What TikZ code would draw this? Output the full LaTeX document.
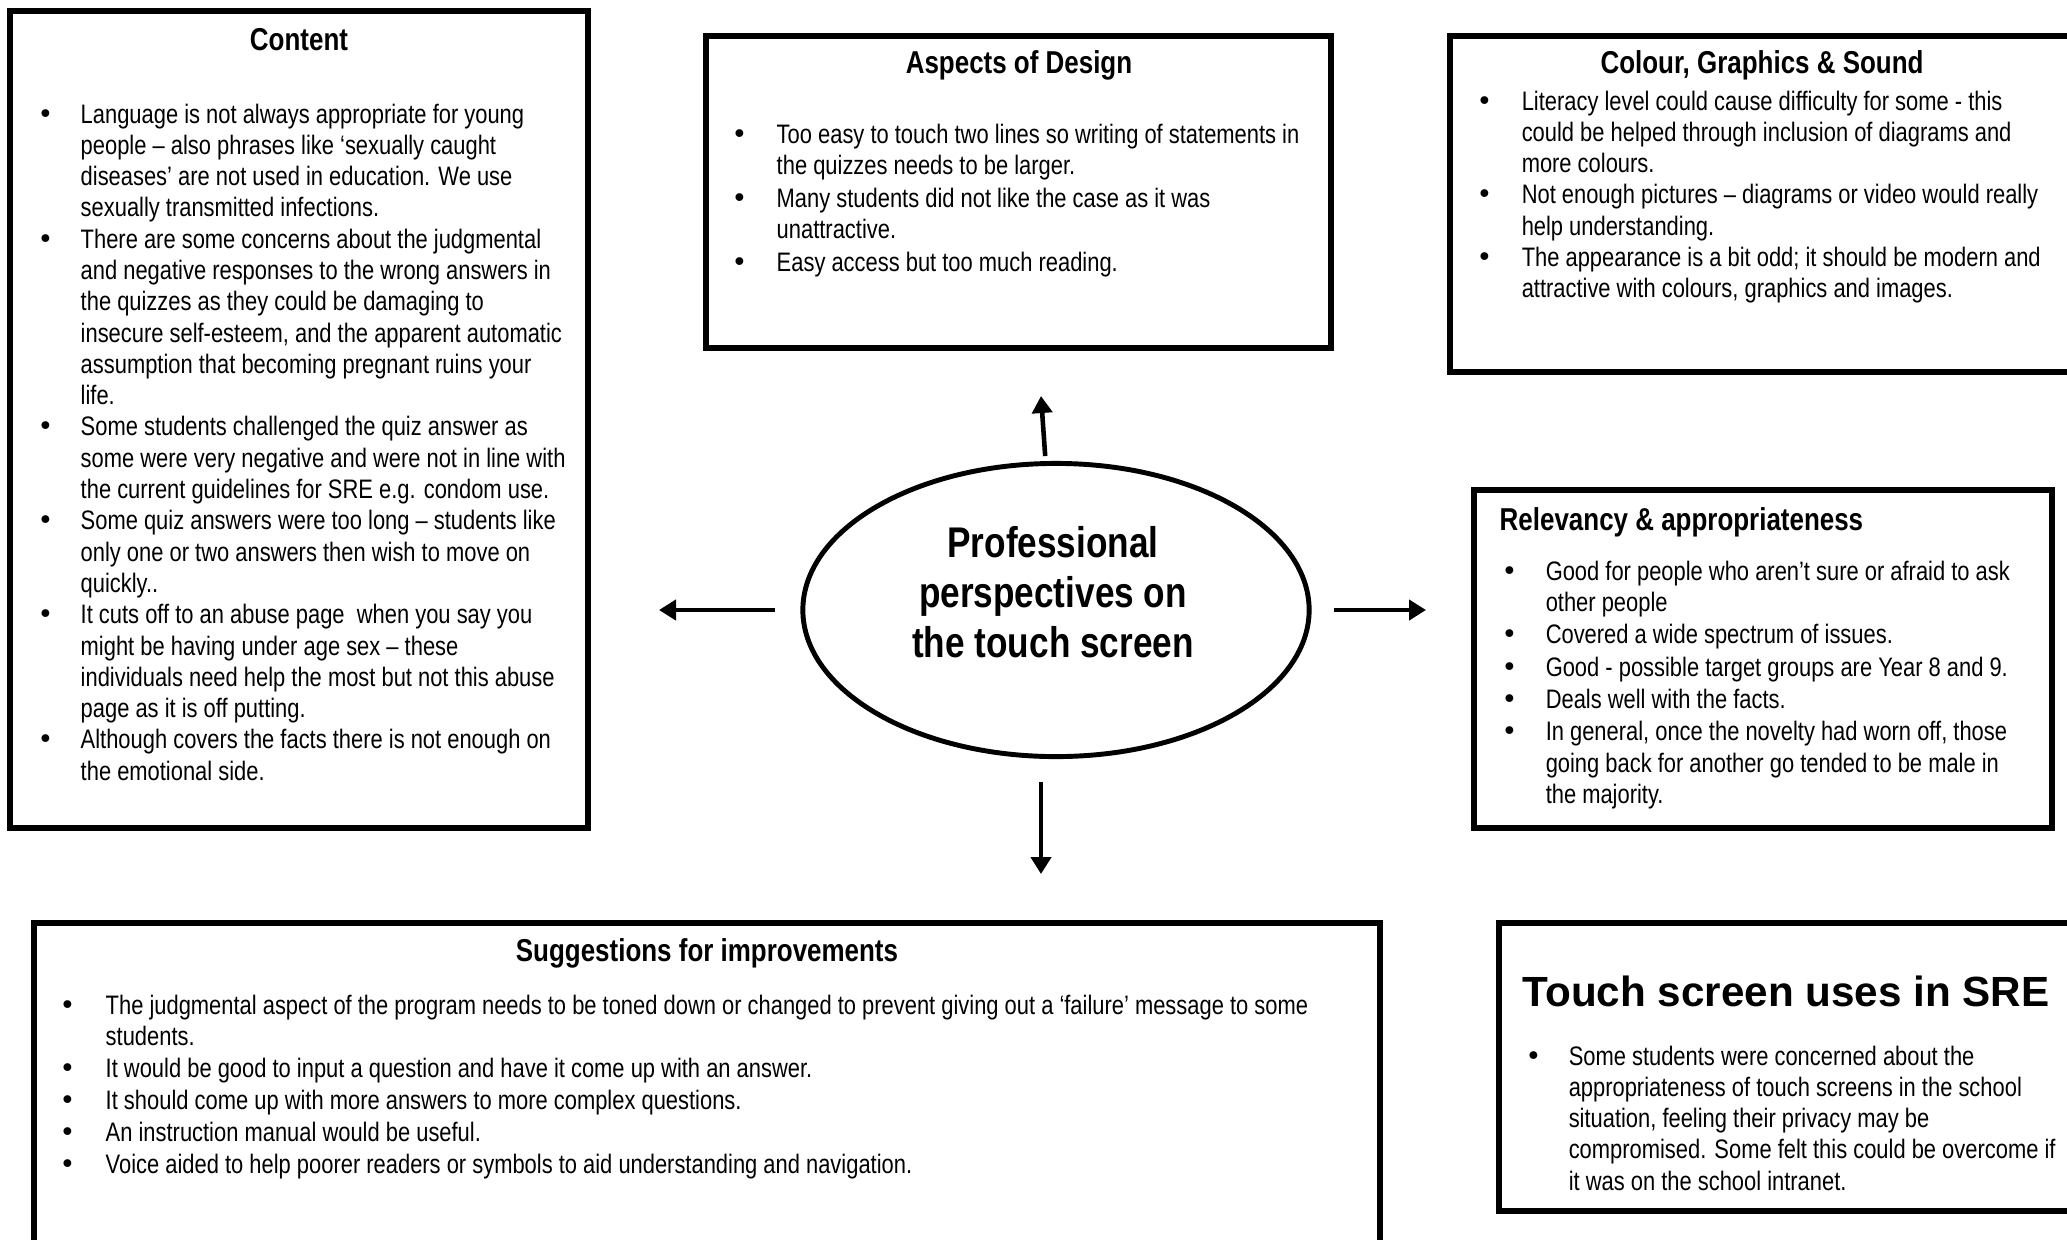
\documentclass[tikz,border=0pt]{standalone}
\usepackage{fontspec}
\setmainfont[FakeStretch=0.82]{Liberation Sans}
\newfontfamily\widefont{Liberation Sans}
\newfontfamily\dotfont{DejaVu Sans}
\usetikzlibrary{arrows.meta,positioning,shapes.geometric,fit}
\newcommand\blt{{\dotfont •}}

\begin{document}
\begin{tikzpicture}[
    x=0.01cm, y=-0.01cm,
    panel/.style={rectangle, draw=black, line width=1.5pt, inner sep=0pt},
    ttl/.style={inner sep=0pt, font=\fontsize{9}{11}\selectfont\bfseries},
    lst/.style={anchor=base west, inner sep=0pt, font=\fontsize{7.6}{8.9}\selectfont},
    oval/.style={ellipse, draw=black, line width=1.4pt, inner sep=0pt,
                 minimum width=5.06cm, minimum height=2.93cm},
    arr/.style={-{Triangle[length=0.17cm, width=0.2cm]}, line width=1.3pt},
]
\useasboundingbox (0,0) rectangle (2067,1239);
\clip (0,0) rectangle (2067,1239);

% Content (left)
\node[panel, fit={(10,11) (588,828)}] (contentbox) {};
\node[ttl] (contenttitle) at (299,40) {Content};
\node[lst] (contentlist) at (37,123) {\begin{tabular}[t]{@{}p{0.43cm}@{}p{5.3cm}@{}}
\blt & Language is not always appropriate for young\newline people – also phrases like ‘sexually caught\newline diseases’ are not used in education. We use\newline sexually transmitted infections.\\
\blt & There are some concerns about the judgmental\newline and negative responses to the wrong answers in\newline the quizzes as they could be damaging to\newline insecure self-esteem, and the apparent automatic\newline assumption that becoming pregnant ruins your\newline life.\\
\blt & Some students challenged the quiz answer as\newline some were very negative and were not in line with\newline the current guidelines for SRE e.g. condom use.\\
\blt & Some quiz answers were too long – students like\newline only one or two answers then wish to move on\newline quickly..\\
\blt & It cuts off to an abuse page\ \ when you say you\newline might be having under age sex – these\newline individuals need help the most but not this abuse\newline page as it is off putting.\\
\blt & Although covers the facts there is not enough on\newline the emotional side.
\end{tabular}};

% Aspects of Design (top)
\node[panel, fit={(706,36) (1331,348)}] (designbox) {};
\node[ttl] (designtitle) at (1019,65) {Aspects of Design};
\node[lst] (designlist) at (731,143) {\begin{tabular}[t]{@{}p{0.45cm}@{}p{5.6cm}@{}}
\blt & Too easy to touch two lines so writing of statements in\newline the quizzes needs to be larger.\\[0.5pt]
\blt & Many students did not like the case as it was\newline unattractive.\\[0.5pt]
\blt & Easy access but too much reading.
\end{tabular}};

% Colour, Graphics & Sound (top right)
\node[panel, fit={(1450,36) (2090,372)}] (colourbox) {};
\node[ttl] (colourtitle) at (1762,65) {Colour, Graphics \& Sound};
\node[lst] (colourlist) at (1476,110) {\begin{tabular}[t]{@{}p{0.45cm}@{}p{5.3cm}@{}}
\blt & Literacy level could cause difficulty for some - this\newline could be helped through inclusion of diagrams and\newline more colours.\\
\blt & Not enough pictures – diagrams or video would really\newline help understanding.\\
\blt & The appearance is a bit odd; it should be modern and\newline attractive with colours, graphics and images.
\end{tabular}};

% Relevancy (right)
\node[panel, fit={(1474,490) (2052,828)}] (relevbox) {};
\node[ttl, anchor=west] (relevtitle) at (1499,522) {Relevancy \& appropriateness};
\node[lst] (relevlist) at (1501,580) {\begin{tabular}[t]{@{}p{0.44cm}@{}p{5.0cm}@{}}
\blt & Good for people who aren’t sure or afraid to ask\newline other people\\[0.3pt]
\blt & Covered a wide spectrum of issues.\\[0.3pt]
\blt & Good - possible target groups are Year 8 and 9.\\[0.3pt]
\blt & Deals well with the facts.\\[0.3pt]
\blt & In general, once the novelty had worn off, those\newline going back for another go tended to be male in\newline the majority.
\end{tabular}};

% Suggestions (bottom)
\node[panel, fit={(34,923) (1380,1260)}] (suggbox) {};
\node[ttl] (suggtitle) at (707,953) {Suggestions for improvements};
\node[lst] (sugglist) at (59,1014) {\begin{tabular}[t]{@{}p{0.46cm}@{}p{12.6cm}@{}}
\blt & The judgmental aspect of the program needs to be toned down or changed to prevent giving out a ‘failure’ message to some\newline students.\\[0.2pt]
\blt & It would be good to input a question and have it come up with an answer.\\[0.2pt]
\blt & It should come up with more answers to more complex questions.\\[0.2pt]
\blt & An instruction manual would be useful.\\[0.2pt]
\blt & Voice aided to help poorer readers or symbols to aid understanding and navigation.
\end{tabular}};

% Touch screen uses (bottom right)
\node[panel, fit={(1499,923) (2090,1211)}] (touchbox) {};
\node[inner sep=0pt, anchor=west, font=\widefont\fontsize{12}{14}\selectfont\bfseries] (touchtitle) at (1522,991) {Touch screen uses in SRE};
\node[lst] (touchlist) at (1525,1065) {\begin{tabular}[t]{@{}p{0.43cm}@{}p{5.2cm}@{}}
\blt & Some students were concerned about the\newline appropriateness of touch screens in the school\newline situation, feeling their privacy may be\newline compromised. Some felt this could be overcome if\newline it was on the school intranet.
\end{tabular}};

% centre and arrows
\node[oval] (centre) at (1056,610) {};
\node[inner sep=0pt, align=center, font=\fontsize{12.2}{14.2}\selectfont\bfseries] (centretext) at (1053,592) {Professional\\perspectives on\\the touch screen};
\coordinate (upTip) at (1041,396);
\coordinate (leftTip) at (659,610);
\coordinate (rightTip) at (1426,610);
\coordinate (downTip) at (1041,874);
\draw[arr, shorten <=0.05cm] (centre) -- (upTip);
\draw[arr, shorten <=0.25cm] (centre) -- (leftTip);
\draw[arr, shorten <=0.22cm] (centre) -- (rightTip);
\draw[arr, shorten <=0.23cm] (centre.south -| downTip) -- (downTip);
\end{tikzpicture}
\end{document}
